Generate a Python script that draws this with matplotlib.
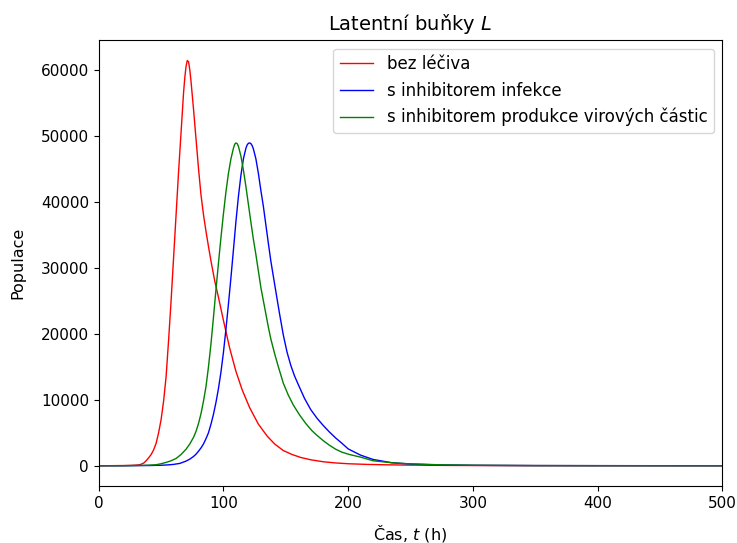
import matplotlib
matplotlib.use("Agg")
import matplotlib.pyplot as plt

# bez léčiva
t_red = [0, 10, 20, 25, 30, 33, 36, 38, 40, 42, 44, 46, 48, 50, 52, 54, 56, 58, 60, 62, 64, 66,
         68, 69, 70, 71, 72, 73, 74, 76, 78, 80, 82, 84, 86, 88, 90, 93, 96, 100, 105, 110,
         115, 121, 128, 135, 141, 148, 155, 162, 170, 180, 190, 200, 215, 230, 250, 275, 300,
         350, 400, 450, 500]
L_red = [0, 5, 20, 40, 90, 150, 400, 750, 1200, 1700, 2400, 3400, 5000, 7000, 9800, 13500,
         19000, 25000, 31500, 38000, 44500, 50500, 56500, 58800, 60500, 61400, 61200, 60000,
         58200, 54000, 49500, 45000, 41000, 38000, 35500, 33200, 31000, 28000, 25500, 22000,
         17800, 14300, 11500, 8800, 6300, 4500, 3300, 2300, 1700, 1250, 900, 600, 420, 300,
         200, 140, 90, 50, 30, 15, 8, 3, 0]

# s inhibitorem infekce
t_blue = [0, 20, 40, 50, 55, 60, 65, 70, 73, 76, 78, 80, 82, 84, 86, 88, 90, 92, 94, 96, 98,
          100, 102, 104, 106, 108, 110, 112, 114, 116, 118, 119, 120, 121, 122, 123, 124, 126,
          128, 130, 132, 134, 136, 138, 140, 142, 145, 148, 151, 154, 157, 160, 165, 170, 175,
          180, 185, 190, 195, 200, 210, 220, 235, 250, 275, 300, 350, 400, 450, 500]
L_blue = [0, 5, 30, 70, 120, 200, 350, 700, 1000, 1400, 1750, 2200, 2700, 3300, 4100, 5000,
          6300, 7800, 9600, 11700, 14200, 17200, 20700, 24500, 28500, 32700, 37000, 40800,
          44000, 46500, 48100, 48600, 48850, 48900, 48800, 48500, 48000, 46500, 44300, 41700,
          39300, 36500, 33700, 31000, 28700, 26400, 23000, 19800, 17200, 15200, 13600, 12300,
          10200, 8500, 7200, 6100, 5100, 4200, 3400, 2550, 1600, 950, 450, 250, 110, 60, 20,
          8, 3, 0]

# s inhibitorem produkce virových částic
t_green = [0, 20, 30, 40, 46, 50, 54, 58, 62, 66, 70, 73, 76, 78, 80, 82, 84, 86, 88, 90, 92,
           94, 96, 98, 100, 102, 104, 106, 108, 109, 110, 111, 112, 114, 116, 118, 120, 122,
           124, 126, 128, 130, 132, 134, 136, 138, 141, 144, 148, 152, 156, 161, 166, 171,
           175, 180, 185, 190, 195, 201, 210, 220, 235, 250, 275, 300, 350, 400, 450, 500]
L_green = [0, 10, 30, 80, 150, 300, 500, 750, 1100, 1700, 2500, 3300, 4300, 5200, 6400, 7900,
           9800, 12000, 15000, 18500, 22500, 26700, 30700, 34600, 38200, 41500, 44300, 46500,
           48100, 48700, 48900, 48800, 48400, 46900, 44800, 42300, 39600, 36900, 34300, 32000,
           29500, 27000, 25000, 23000, 21000, 19200, 17000, 15000, 12500, 10700, 9200, 7700,
           6400, 5300, 4600, 3800, 3100, 2500, 2050, 1700, 1300, 750, 450, 280, 130, 70, 20,
           8, 3, 0]

labels = ["bez léčiva", "s inhibitorem infekce", "s inhibitorem produkce virových částic"]

fig = plt.figure(figsize=(7.37, 5.43), dpi=100)
ax = fig.add_axes([0.134, 0.105, 0.846, 0.821])
ax.plot(t_red, L_red, color="red", lw=1, label=labels[0])
ax.plot(t_blue, L_blue, color="blue", lw=1, label=labels[1])
ax.plot(t_green, L_green, color="green", lw=1, label=labels[2])
ax.set_xlim(0, 500)
ax.set_title("Latentní buňky $L$", fontsize=14, pad=7)
ax.set_xlabel("Čas, $t$ (h)", fontsize=11.5, labelpad=9)
ax.set_ylabel("Populace", fontsize=11.5, labelpad=11)
ax.tick_params(labelsize=11)
ax.legend(loc="upper right", fontsize=12)
fig.savefig("out.png", dpi=100)
